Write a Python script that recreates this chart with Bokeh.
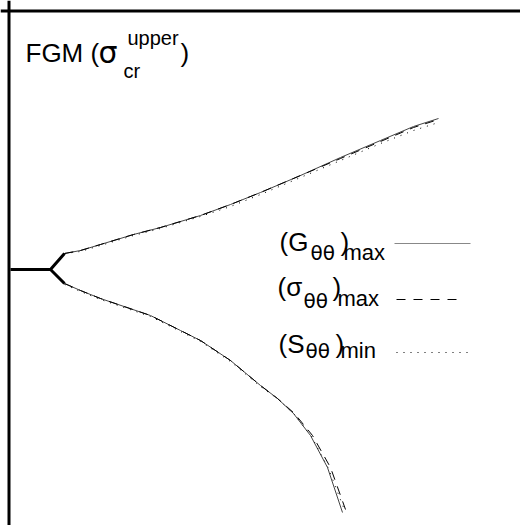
from bokeh.plotting import figure
from bokeh.models import Range1d, Span, ColumnDataSource
from bokeh.core.properties import value
from bokeh.embed import file_html
from bokeh.resources import INLINE

# Bifurcation of the critical stress for the FGM case.
# x: load path coordinate, y: branch deviation from the trivial path (stem at y=0)
stem_x = [0, 40]
stem_y = [0, 0]
fork_x = [54, 40, 54]
fork_y = [16, 0, -14]

# upper branch, three criteria
up_x = [54, 70, 90, 123, 150, 170, 190, 220, 250, 290, 330, 370, 403, 428]
up_G = [16, 19, 25, 35, 42, 48, 54, 65, 77, 94, 112, 129, 143, 151]
up_s = [16, 19, 25, 35, 42, 48, 54, 65, 77, 94, 111, 128, 142, 150]
up_S = [16, 18, 24, 34, 41, 47, 53, 63, 75, 92, 109, 126, 139, 147]

# lower branch, three criteria
lo_G_x = [54, 70, 90, 140, 170, 190, 220, 250, 267, 283, 300, 317, 332]
lo_G_y = [-14, -21, -29, -46, -61, -71, -91, -116, -129, -144, -166, -198, -243]
lo_s_x = [54, 70, 90, 140, 170, 190, 220, 250, 267, 284, 302, 320, 335]
lo_s_y = [-14, -21, -29, -46, -61, -71, -91, -116, -129, -144, -166, -198, -240]
lo_S_x = [54, 70, 90, 140, 170, 190, 220, 250, 268, 284, 301, 318, 333]
lo_S_y = [-15, -22, -30, -47, -62, -72, -92, -117, -130, -145, -167, -199, -238]

p = figure(width=520, height=525, output_backend="svg", toolbar_location=None,
           x_range=Range1d(-10, 510), y_range=Range1d(-256, 269),
           min_border=0, background_fill_color="white", border_fill_color="white")
p.axis.visible = False
p.grid.visible = False
p.outline_line_color = None

# frame: top and left edges only
p.add_layout(Span(location=258.5, dimension="width", line_color="black", line_width=3))
p.add_layout(Span(location=-1.5, dimension="height", line_color="black", line_width=3))

# trivial path and fork
p.line(stem_x, stem_y, line_color="black", line_width=3)
p.line(fork_x, fork_y, line_color="black", line_width=3, line_join="miter")

# branches
p.line(up_x, up_G, line_color="#444444", line_width=1)
p.line(up_x, up_s, line_color="black", line_width=1, line_dash="9 7")
p.line(up_x, up_S, line_color="black", line_width=1, line_dash="1 6")
p.line(lo_G_x, lo_G_y, line_color="#444444", line_width=1)
p.line(lo_s_x, lo_s_y, line_color="black", line_width=1, line_dash="9 7")
p.line(lo_S_x, lo_S_y, line_color="black", line_width=1, line_dash="1 6")

# legend samples
leg_y = [26, -30, -83]
p.line([384, 460], [leg_y[0], leg_y[0]], line_color="#888888", line_width=1)
p.line([386, 453], [leg_y[1], leg_y[1]], line_color="black", line_width=1, line_dash="9 8")
p.line([386, 460], [leg_y[2], leg_y[2]], line_color="black", line_width=1, line_dash="1 6")

SANS = value("Liberation Sans")
WIDE = value("DejaVu Sans")
LIFT = 12  # alphabetic baseline sits low in the svg output

def put(xs, ys, texts, size, font=SANS):
    src = ColumnDataSource(dict(x=xs, y=[v + LIFT for v in ys], t=texts))
    p.text(x="x", y="y", text="t", source=src, text_font=font,
           text_font_size=f"{size}px", text_color="black",
           text_align="left", text_baseline="alphabetic")

# title  FGM (σ_cr^upper)
put([15], [205], ["FGM ("], 26)
put([88], [205], ["σ"], 30, WIDE)
put([117], [220], ["upper"], 20)
put([113], [187], ["cr"], 20)
put([170], [205], [")"], 26)

# legend labels
put([269, 267, 268], [16, -29, -86], ["(G", "(σ", "(S"], 26)
put([300, 293, 295], [5, -43, -93], ["θθ", "θθ", "θθ"], 20, WIDE)
put([330, 322, 325], [16, -29, -86], [")", ")", ")"], 26)
put([333, 327, 330], [5, -41, -93], ["max", "max", "min"], 22)

open("out.html", "w").write(file_html(p, INLINE))
